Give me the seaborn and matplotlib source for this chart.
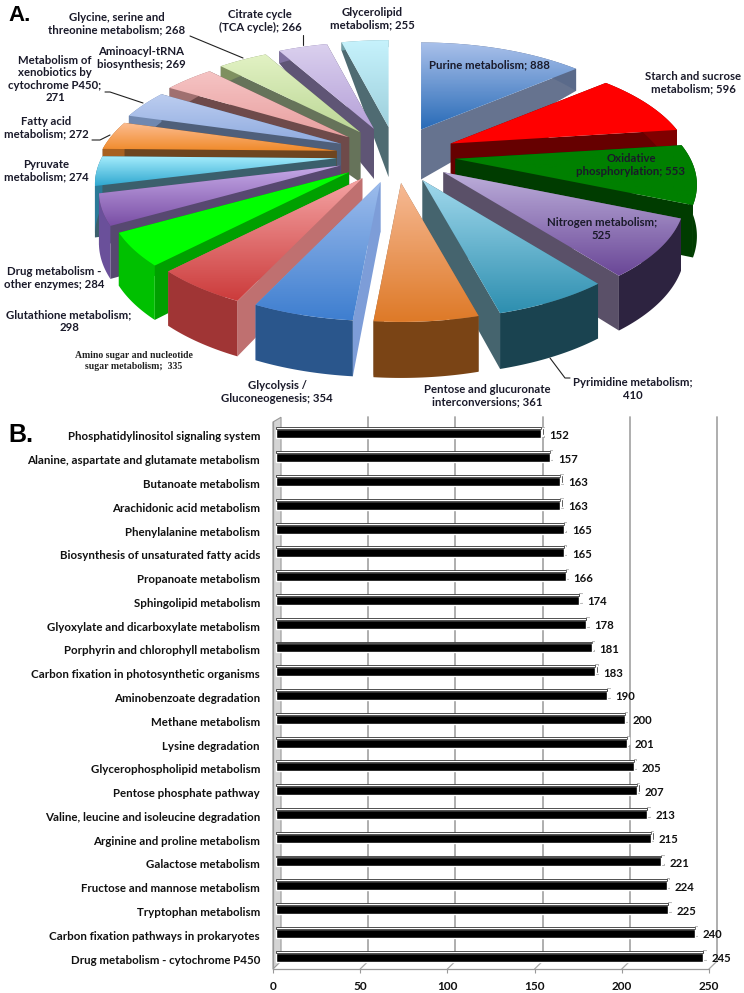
import matplotlib
matplotlib.use("Agg")
import matplotlib.pyplot as plt
import matplotlib.transforms as mtransforms
import numpy as np
import pandas as pd
import seaborn as sns
from matplotlib.colors import LinearSegmentedColormap
from matplotlib.patches import Polygon

# panel A
pie_names = ["Purine", "Starch", "Oxidative", "Nitrogen", "Pyrimidine", "Pentose", "Glycolysis", "Amino sugar",
             "Glutathione", "Drug", "Pyruvate", "Fatty acid", "Xenobiotics", "Aminoacyl", "Glycine", "Citrate",
             "Glycerolipid"]
pie_values = [888, 596, 553, 525, 410, 361, 354, 335, 298, 284, 274, 272, 271, 269, 268, 266, 255]
pie_top_light = ["#a9c0ea", "#ff0000", "#008000", "#bcaeda", "#a0d8ec", "#f6b994", "#9dbcec", "#f4a3a3",
                 "#00ff00", "#c6aae8", "#a4ecfc", "#fcbc90", "#bccdf0", "#f6c4c4", "#e2f2c4", "#dad0ee", "#c6f2fc"]
pie_top_dark = ["#2a6cb8", "#ff0000", "#008000", "#6a4797", "#2e8fb0", "#de7a28", "#3f7fd0", "#cc3c3c",
                "#00ff00", "#7a4fa5", "#30a8d0", "#f08a2a", "#8fabdf", "#e8a0a0", "#bcd796", "#b5a0d8", "#9ed0dc"]
pie_side = ["#66738f", "#660000", "#003c00", "#5a5068", "#45646e", "#8a6a50", "#7d9dd8", "#bf7070",
            "#00a000", "#574870", "#3b5f6c", "#6e4520", "#4f5f7a", "#6e4a4a", "#66735a", "#5f5575", "#4f6b72"]
pie_wall = ["#5a6a8a", "#800000", "#003c00", "#2d2340", "#1a4350", "#7a4415", "#2a568c", "#a03535",
            "#00c000", "#6a509a", "#2a7a98", "#a86020", "#7088b0", "#a07070", "#7f9060", "#7f70a0", "#70a0a8"]

# (text, x, y) of the labels
pie_labels = [
    ("Purine metabolism; 888", 489, 65), ("Starch and sucrose\nmetabolism; 596", 693, 83),
    ("Oxidative\nphosphorylation; 553", 631, 165), ("Nitrogen metabolism;\n525", 602, 229),
    ("Pyrimidine metabolism;\n410", 633, 389), ("Pentose and glucuronate\ninterconversions; 361", 487, 396),
    ("Glycolysis /\nGluconeogenesis; 354", 277, 392), ("Glutathione metabolism;\n298", 69, 321),
    ("Drug metabolism -\nother enzymes; 284", 54, 278), ("Pyruvate\nmetabolism; 274", 46, 171),
    ("Fatty acid\nmetabolism; 272", 46, 128), ("Metabolism of\nxenobiotics by\ncytochrome P450;\n271", 55, 79),
    ("Aminoacyl-tRNA\nbiosynthesis; 269", 141, 58), ("Glycine, serine and\nthreonine metabolism; 268", 117, 24),
    ("Citrate cycle\n(TCA cycle); 266", 260, 21), ("Glycerolipid\nmetabolism; 255", 372, 19),
]
leaders = [
    ([190, 243], [36, 58]), ([303, 303], [35, 45]), ([105, 110, 143], [92, 92, 103]),
    ([92, 100, 110], [140, 140, 135]), ([550, 565, 570], [358, 378, 378]),
]

# panel B
pathways = ["Phosphatidylinositol signaling system", "Alanine, aspartate and glutamate metabolism",
            "Butanoate metabolism", "Arachidonic acid metabolism", "Phenylalanine metabolism",
            "Biosynthesis of unsaturated fatty acids", "Propanoate metabolism", "Sphingolipid metabolism",
            "Glyoxylate and dicarboxylate metabolism", "Porphyrin and chlorophyll metabolism",
            "Carbon fixation in photosynthetic organisms", "Aminobenzoate degradation", "Methane metabolism",
            "Lysine degradation", "Glycerophospholipid metabolism", "Pentose phosphate pathway",
            "Valine, leucine and isoleucine degradation", "Arginine and proline metabolism", "Galactose metabolism",
            "Fructose and mannose metabolism", "Tryptophan metabolism", "Carbon fixation pathways in prokaryotes",
            "Drug metabolism - cytochrome P450"]
counts = [152, 157, 163, 163, 165, 165, 166, 174, 178, 181, 183, 190, 200, 201, 205, 207, 213, 215, 221, 224, 225,
          240, 245]
x_ticks = [0, 50, 100, 150, 200, 250]

sns.set_style("white")
plt.rcParams["font.family"] = ["Lato", "DejaVu Sans"]
plt.rcParams["font.weight"] = "bold"

fig = plt.figure(figsize=(7.44, 9.93), dpi=100)

# ---- A: exploded pie, wedges projected to a tilted view
ax_pie = fig.add_axes([0, 0, 1, 1])
wedges, _ = ax_pie.pie(pie_values, explode=[0.24] * len(pie_values), startangle=90, counterclock=False)
ax_pie.set_aspect("auto")
for w in wedges:
    w.set_visible(False)


def project(x, y):
    s = 1 / (1 + 0.23 * y)
    return 235 * x * s, -107 * y * s


def depth(y):
    return 50 - 43 * y if y > 0 else 50 - 6 * y


def gradient_poly(ax, pts, c1, c2, z):
    pts = np.array(pts)
    cmap = LinearSegmentedColormap.from_list("g", [c1, c2])
    patch = Polygon(pts, closed=True, facecolor="none", edgecolor="none", zorder=z)
    ax.add_patch(patch)
    im = ax.imshow(np.linspace(0, 1, 64).reshape(-1, 1), cmap=cmap, aspect="auto", zorder=z,
                   extent=(pts[:, 0].min(), pts[:, 0].max(), pts[:, 1].max(), pts[:, 1].min()))
    im.set_clip_path(patch)


order = sorted(range(len(wedges)), key=lambda i: -wedges[i].center[1])
for z, i in enumerate(order):
    w = wedges[i]
    ax_cx = 396 + 250 * w.center[0]
    ax_cy = 155 - 117 * w.center[1]
    t = np.radians(np.linspace(w.theta1, w.theta2, 40))
    ux, uy = np.cos(t), np.sin(t)
    px, py = project(ux, uy)
    rim = np.column_stack([ax_cx + px, ax_cy + py])
    drop = np.array([depth(v) for v in uy])
    low = rim + np.column_stack([np.zeros_like(drop), drop])
    apex = np.array([ax_cx, ax_cy])
    apex_low = apex + [0, 50]
    zb = 3 + z * 3
    for end in (0, -1):
        ax_pie.add_patch(Polygon([apex, rim[end], low[end], apex_low], closed=True, facecolor=pie_side[i],
                                 edgecolor="none", zorder=zb))
    ax_pie.add_patch(Polygon(np.vstack([rim, low[::-1]]), closed=True, facecolor=pie_wall[i], edgecolor="none",
                             zorder=zb + 1))
    gradient_poly(ax_pie, np.vstack([[apex], rim]), pie_top_light[i], pie_top_dark[i], zb + 2)

for text, x, y in pie_labels:
    ax_pie.text(x, y, text, ha="center", va="center", fontsize=8.2, color="#1a1a2a", linespacing=1.15, zorder=100)
ax_pie.text(134, 361, "Amino sugar and nucleotide\nsugar metabolism;  335", ha="center", va="center", fontsize=7,
            family="Liberation Serif", weight="bold", color="#222222", zorder=100)
for lx, ly in leaders:
    ax_pie.plot(lx, ly, color="#222222", lw=0.8, zorder=100)
ax_pie.text(8, 21, "A.", fontsize=16, family="Liberation Sans", weight="bold", color="black", zorder=100)
ax_pie.text(8, 442, "B.", fontsize=18, family="Liberation Sans", weight="bold", color="black", zorder=100)
ax_pie.set_xlim(0, 744)
ax_pie.set_ylim(993, 0)
ax_pie.patch.set_alpha(0)

# ---- B: horizontal bars with a faux 3D wall
ax = fig.add_axes([273 / 744, 1 - 969 / 993, 436 / 744, 547 / 993])
df = pd.DataFrame({"pathway": pathways, "count": counts})
sns.barplot(data=df, x="count", y="pathway", color="black", saturation=1, width=0.38, orient="h", ax=ax, zorder=4)
ax.set_xlim(0, 250)
ax.set_ylim(22.5, -0.5)
ax.set_xlabel("")
ax.set_ylabel("")
ax.set_xticks(x_ticks)
ax.patch.set_alpha(0)

# bars sit a little in front of the axis line
bar_shift = mtransforms.offset_copy(ax.transData, fig=fig, x=3, y=0, units="dots")
for bar in ax.patches:
    bar.set_transform(bar_shift)

dx, dy_low, dy_top = 4.6, -0.33, -0.2
ax.fill([0, dx, dx, 0], [22.5, 22.5 + dy_low, -0.5 + dy_top, -0.5], facecolor="#d4d4d4", edgecolor="#999999", lw=0.8,
        clip_on=False, zorder=1)
for tick in x_ticks[1:]:
    ax.plot([tick + dx, tick + dx], [22.5 + dy_low, -0.5 + dy_top], color="#a8a8a8", lw=1.3, clip_on=False, zorder=1)
    ax.plot([tick, tick + dx], [22.5, 22.5 + dy_low], color="#a8a8a8", lw=0.9, clip_on=False, zorder=1)

pos = np.arange(len(counts))
ax.barh(pos - 0.23, counts, height=0.08, color="white", edgecolor="#333333", lw=0.6, zorder=5, clip_on=False,
        transform=bar_shift)
ax.barh(pos - 0.1, [1.4] * len(counts), left=counts, height=0.42, color="white", edgecolor="#777777", lw=0.4,
        zorder=3, clip_on=False, transform=bar_shift)
ax.barh(pos - 0.1, [0.8] * len(counts), left=np.array(counts) + 0.7, height=0.32, color="black", zorder=5,
        clip_on=False, transform=bar_shift)
for p, c in zip(pos, counts):
    ax.annotate(str(c), (c, p), xytext=(11, -1.5), textcoords="offset pixels", va="center", ha="left", fontsize=8.2,
                color="#111111", zorder=6, annotation_clip=False)

ax.tick_params(axis="y", length=0, pad=9.4, labelsize=8.3, labelcolor="#111111")
ax.tick_params(axis="x", length=3, width=0.8, color="#999999", pad=6, labelsize=8.5, labelcolor="#111111", bottom=True)
label_shift = mtransforms.ScaledTranslation(0, -2 / 100, fig.dpi_scale_trans)
for lbl in ax.get_yticklabels():
    lbl.set_transform(lbl.get_transform() + label_shift)
sns.despine(ax=ax, top=True, right=True)
for side in ("left", "bottom"):
    ax.spines[side].set_color("#999999")
    ax.spines[side].set_linewidth(0.9)

fig.savefig("out.png", dpi=100)
